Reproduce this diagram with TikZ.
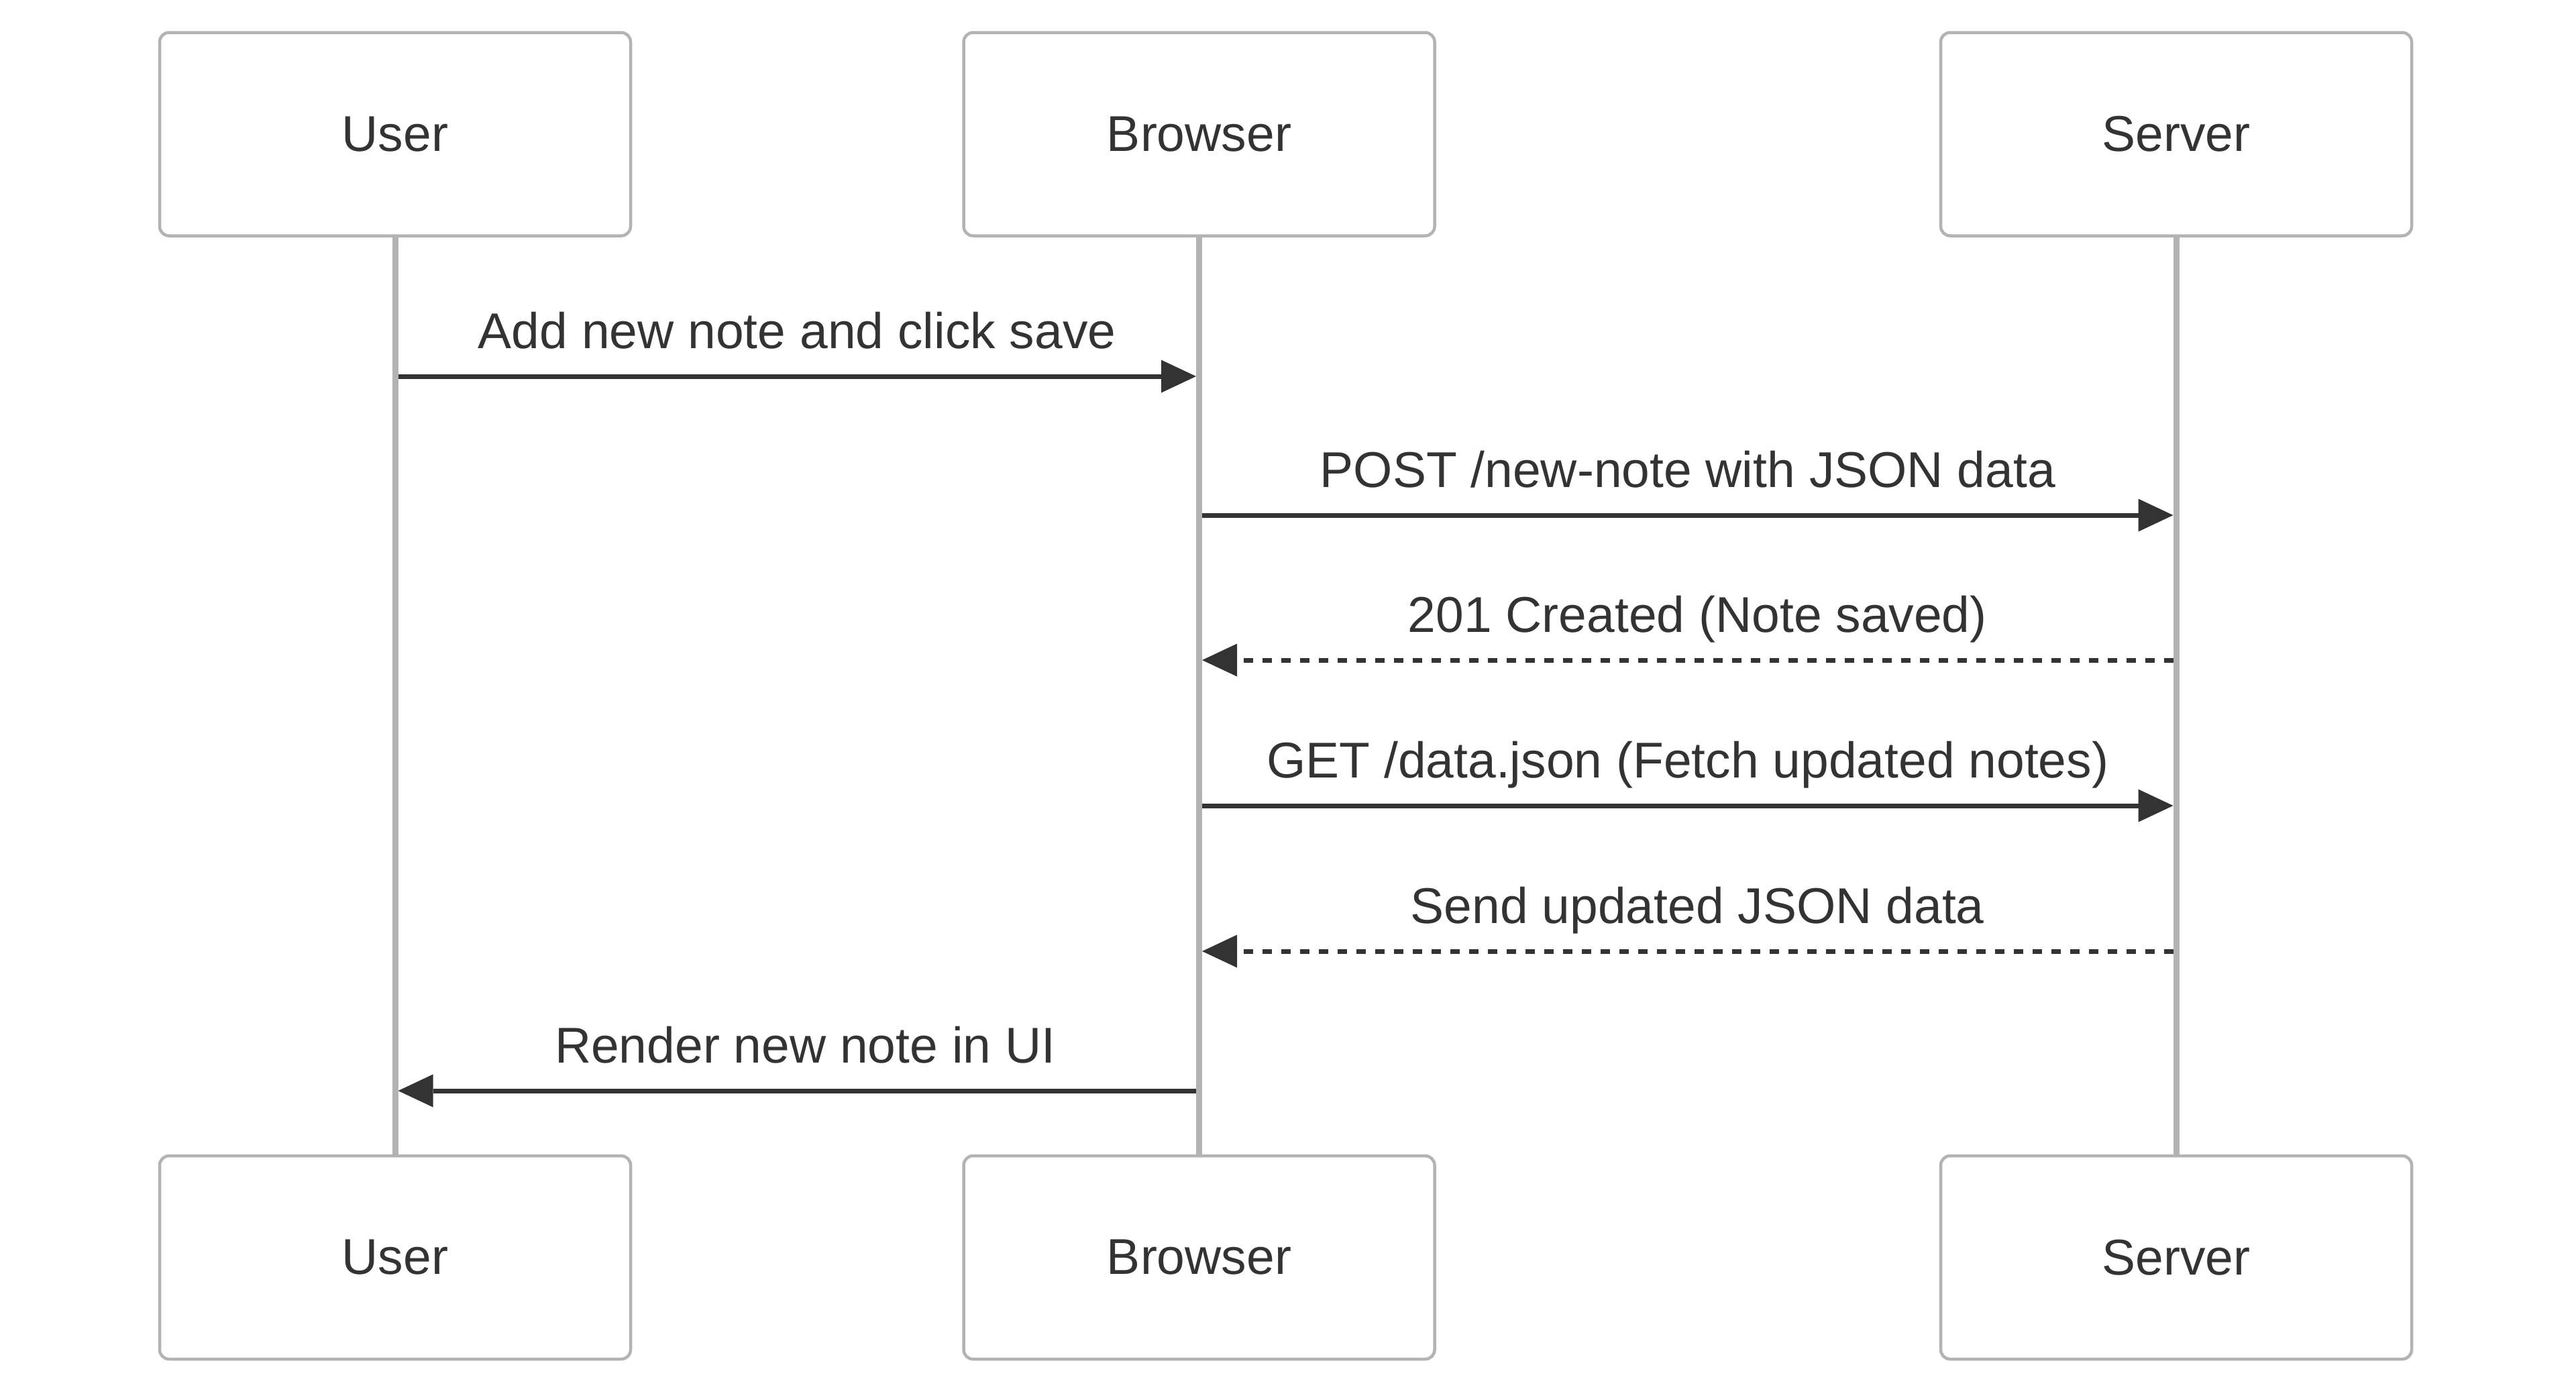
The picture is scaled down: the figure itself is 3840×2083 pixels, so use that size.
\documentclass[tikz,border=0pt]{standalone}
\usepackage{fontspec}
\setmainfont{Liberation Sans}
\usepackage{tikz}
\usetikzlibrary{positioning, arrows.meta}
\definecolor{ink}{HTML}{333333}
\definecolor{rule}{HTML}{B3B3B3}
\tikzset{>={Triangle[length=52pt, width=49pt, line width=0pt]}}
\tikzset{actor/.style={draw=rule, line width=4.5pt, rounded corners=14pt, fill=white,
    text=ink, minimum width=702pt, minimum height=303pt, font=\fontsize{75}{90}\selectfont}}
\tikzset{lifeline/.style={draw=rule, line width=9pt}}
\tikzset{message/.style={draw=ink, line width=7pt, ->, shorten >=4.5pt, shorten <=4.5pt}}
\tikzset{reply/.style={message, dash pattern=on 14pt off 14pt}}
\tikzset{msg text/.style={anchor=base, yshift=42pt, text=ink, font=\fontsize{75}{90}\selectfont}}

\begin{document}
\begin{tikzpicture}[x=1pt, y=-1pt]
    \useasboundingbox (0,0) rectangle (3840,2083);

    \node[actor] (user-top) at (589,200) {User};
    \node[actor, right=492pt of user-top] (browser-top) {Browser};
    \node[actor, right=750pt of browser-top] (server-top) {Server};

    \node[actor, below=1367pt of user-top] (user-bot) {User};
    \node[actor, below=1367pt of browser-top] (browser-bot) {Browser};
    \node[actor, below=1367pt of server-top] (server-bot) {Server};

    \draw[lifeline] (user-top) to (user-bot);
    \draw[lifeline] (browser-top) to (browser-bot);
    \draw[lifeline] (server-top) to (server-bot);

    % message rows
    \coordinate (m1) at (0,561);
    \coordinate (m2) at (0,768);
    \coordinate (m3) at (0,984);
    \coordinate (m4) at (0,1201);
    \coordinate (m5) at (0,1418);
    \coordinate (m6) at (0,1626);

    \draw[message] (user-top |- m1) to node[msg text] {Add new note and click save} (browser-top |- m1);
    \draw[message] (browser-top |- m2) to node[msg text] {POST /new-note with JSON data} (server-top |- m2);
    \draw[reply] (server-top |- m3) to node[msg text, pos=0.49] {201 Created (Note saved)} (browser-top |- m3);
    \draw[message] (browser-top |- m4) to node[msg text] {GET /data.json (Fetch updated notes)} (server-top |- m4);
    \draw[reply] (server-top |- m5) to node[msg text, pos=0.49] {Send updated JSON data} (browser-top |- m5);
    \draw[message] (browser-top |- m6) to node[msg text, pos=0.49] {Render new note in UI} (user-top |- m6);
\end{tikzpicture}
\end{document}
